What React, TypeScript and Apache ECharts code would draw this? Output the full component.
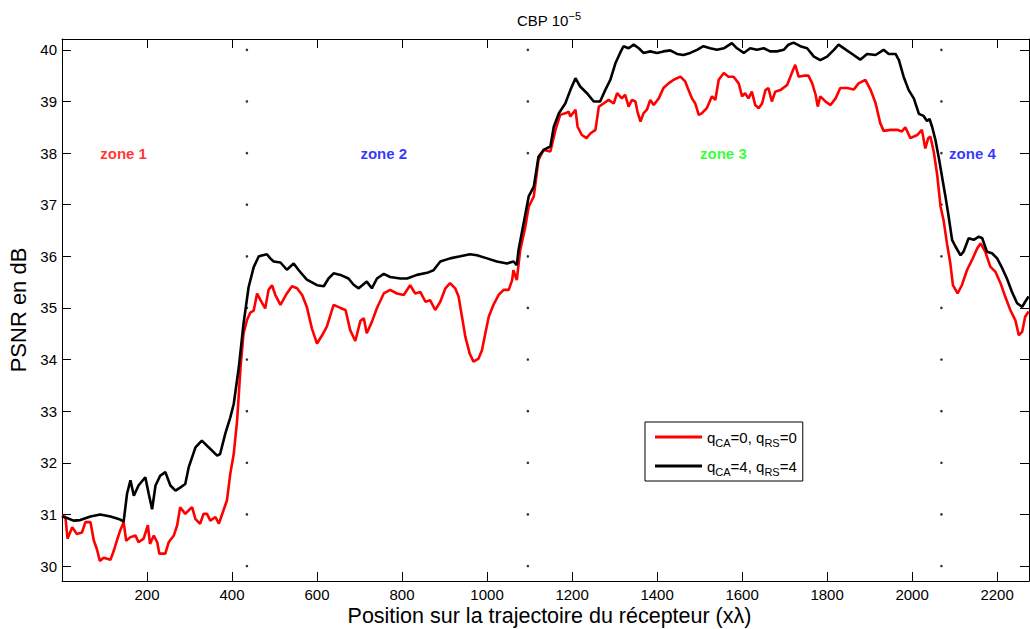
import React, { useEffect, useRef } from "react";
import * as echarts from "echarts";

// ---- data ----
const redX = [0, 8, 13, 24, 35, 47, 55, 67, 75, 82, 89, 98, 114, 122, 129, 137, 145, 151, 161, 173, 180, 192, 202, 207, 216, 224, 229, 243, 251, 263, 271, 278, 290, 298, 306, 314, 325, 333, 341, 349, 361, 369, 380, 388, 396, 404, 412, 420, 427, 435, 443, 451, 459, 467, 478, 486, 494, 502, 514, 529, 541, 553, 565, 576, 588, 600, 612, 623, 639, 655, 667, 678, 690, 702, 710, 717, 729, 741, 757, 772, 788, 804, 819, 831, 843, 855, 866, 878, 890, 902, 913, 925, 933, 941, 949, 959, 968, 980, 988, 996, 1004, 1015, 1027, 1039, 1051, 1059, 1062, 1070, 1078, 1090, 1098, 1110, 1121, 1133, 1149, 1161, 1172, 1184, 1192, 1196, 1208, 1213, 1223, 1234, 1243, 1255, 1263, 1274, 1286, 1298, 1306, 1317, 1325, 1333, 1341, 1349, 1354, 1361, 1368, 1376, 1384, 1392, 1404, 1415, 1427, 1439, 1455, 1466, 1474, 1482, 1490, 1498, 1505, 1517, 1529, 1537, 1545, 1557, 1568, 1580, 1592, 1600, 1607, 1615, 1623, 1631, 1639, 1647, 1655, 1662, 1670, 1678, 1690, 1706, 1717, 1725, 1733, 1745, 1756, 1765, 1773, 1778, 1784, 1796, 1808, 1820, 1831, 1847, 1863, 1874, 1890, 1902, 1914, 1925, 1933, 1949, 1965, 1976, 1984, 1996, 2012, 2023, 2031, 2038, 2043, 2051, 2059, 2067, 2074, 2082, 2090, 2096, 2107, 2117, 2129, 2141, 2153, 2161, 2172, 2184, 2196, 2208, 2219, 2231, 2243, 2251, 2259, 2266, 2274];
const redY = [30.98, 30.95, 30.53, 30.75, 30.62, 30.65, 30.85, 30.85, 30.49, 30.33, 30.1, 30.16, 30.12, 30.3, 30.49, 30.69, 30.85, 30.49, 30.56, 30.59, 30.46, 30.53, 30.79, 30.43, 30.59, 30.46, 30.24, 30.24, 30.46, 30.59, 30.79, 31.14, 31.01, 31.08, 31.14, 30.91, 30.82, 31.01, 31.01, 30.88, 30.95, 30.82, 31.08, 31.27, 31.79, 32.17, 32.82, 33.85, 34.5, 34.76, 34.91, 34.95, 35.28, 35.15, 34.99, 35.35, 35.44, 35.25, 35.06, 35.28, 35.42, 35.38, 35.25, 35.02, 34.6, 34.31, 34.47, 34.64, 35.06, 35.0, 34.96, 34.57, 34.36, 34.75, 34.8, 34.51, 34.73, 35.0, 35.28, 35.35, 35.28, 35.25, 35.44, 35.28, 35.31, 35.12, 35.15, 34.96, 35.12, 35.38, 35.48, 35.38, 35.22, 34.83, 34.44, 34.12, 33.96, 34.02, 34.18, 34.51, 34.83, 35.06, 35.25, 35.35, 35.35, 35.54, 35.73, 35.54, 36.12, 36.57, 36.96, 37.16, 37.87, 38.06, 38.03, 38.45, 38.74, 38.77, 38.8, 38.71, 38.84, 38.51, 38.35, 38.29, 38.38, 38.45, 38.9, 38.96, 39.03, 38.96, 39.16, 39.06, 39.13, 38.9, 39.03, 39.0, 38.8, 38.61, 38.77, 38.84, 39.03, 38.93, 39.06, 39.26, 39.35, 39.42, 39.48, 39.39, 39.22, 39.06, 38.96, 38.74, 38.77, 38.87, 39.1, 39.03, 39.42, 39.55, 39.48, 39.48, 39.35, 39.1, 39.16, 39.06, 39.19, 38.93, 38.87, 38.96, 39.22, 39.26, 39.0, 39.19, 39.22, 39.32, 39.55, 39.71, 39.48, 39.5, 39.5, 39.35, 39.13, 38.9, 39.1, 39.0, 38.93, 39.06, 39.26, 39.26, 39.23, 39.35, 39.42, 39.23, 38.97, 38.58, 38.43, 38.45, 38.45, 38.42, 38.5, 38.29, 38.35, 38.45, 38.09, 38.29, 38.32, 38.02, 37.58, 36.96, 36.7, 36.25, 35.86, 35.44, 35.28, 35.44, 35.73, 35.93, 36.15, 36.25, 36.09, 35.8, 35.7, 35.48, 35.22, 34.96, 34.76, 34.47, 34.54, 34.83, 34.93];

const blackX = [0, 12, 27, 43, 67, 90, 114, 137, 145, 153, 161, 169, 180, 196, 204, 212, 220, 231, 243, 255, 267, 278, 290, 298, 314, 329, 345, 365, 372, 384, 396, 404, 416, 427, 439, 451, 463, 482, 490, 498, 514, 529, 545, 557, 576, 600, 616, 627, 639, 655, 674, 686, 698, 717, 729, 741, 757, 772, 796, 812, 835, 859, 874, 890, 913, 937, 960, 976, 1000, 1023, 1047, 1062, 1070, 1074, 1086, 1098, 1110, 1121, 1133, 1149, 1157, 1169, 1184, 1196, 1208, 1219, 1235, 1251, 1266, 1278, 1290, 1302, 1313, 1321, 1333, 1345, 1357, 1368, 1384, 1400, 1415, 1431, 1447, 1462, 1478, 1494, 1509, 1525, 1541, 1557, 1576, 1588, 1604, 1619, 1635, 1651, 1666, 1682, 1698, 1709, 1721, 1737, 1753, 1769, 1784, 1800, 1816, 1827, 1843, 1859, 1878, 1894, 1914, 1933, 1945, 1961, 1969, 1980, 1992, 2004, 2016, 2027, 2035, 2041, 2047, 2055, 2063, 2070, 2078, 2086, 2094, 2102, 2114, 2121, 2133, 2145, 2157, 2165, 2176, 2188, 2200, 2212, 2223, 2235, 2247, 2259, 2266, 2274];
const blackY = [30.96, 30.93, 30.88, 30.89, 30.96, 31.0, 30.96, 30.9, 30.86, 31.4, 31.66, 31.36, 31.56, 31.72, 31.4, 31.1, 31.56, 31.75, 31.82, 31.56, 31.46, 31.52, 31.59, 31.91, 32.3, 32.43, 32.3, 32.14, 32.17, 32.56, 32.88, 33.14, 33.85, 34.69, 35.4, 35.79, 36.0, 36.04, 35.96, 35.9, 35.88, 35.74, 35.86, 35.73, 35.55, 35.44, 35.42, 35.57, 35.67, 35.64, 35.57, 35.45, 35.38, 35.51, 35.38, 35.57, 35.66, 35.6, 35.57, 35.57, 35.64, 35.68, 35.73, 35.9, 35.96, 36.0, 36.04, 36.02, 35.96, 35.9, 35.86, 35.9, 35.83, 36.12, 36.64, 37.16, 37.35, 37.93, 38.06, 38.13, 38.51, 38.77, 38.96, 39.22, 39.45, 39.29, 39.16, 39.0, 39.0, 39.22, 39.42, 39.74, 39.94, 40.07, 40.03, 40.1, 40.03, 39.94, 39.97, 39.94, 39.97, 39.99, 39.92, 39.9, 39.94, 40.0, 40.07, 40.03, 40.0, 40.03, 40.13, 40.03, 39.94, 40.03, 40.0, 40.03, 39.97, 39.97, 40.0, 40.1, 40.14, 40.07, 40.03, 39.87, 39.8, 39.87, 40.0, 40.1, 40.01, 39.92, 39.81, 39.92, 39.9, 40.0, 39.92, 39.92, 39.8, 39.48, 39.22, 39.06, 38.76, 38.72, 38.62, 38.66, 38.51, 38.25, 37.9, 37.56, 37.18, 36.77, 36.32, 36.19, 36.02, 36.09, 36.35, 36.32, 36.38, 36.35, 36.09, 36.06, 35.96, 35.77, 35.57, 35.31, 35.09, 35.02, 35.12, 35.22];

const seriesNames = ["q_CA=0, q_RS=0", "q_CA=4, q_RS=4"];
const zoneNames = ["zone 1", "zone 2", "zone 3", "zone 4"];
const zoneX = [145, 757, 1556, 2142];
const zoneY = 38;
const separatorX = [435, 1096, 2069];
const dotLevels = [30, 31, 32, 33, 34, 35, 36, 37, 38, 39, 40];
const xTickStep = 200;

// ---- styles ----
const FONT = "'Liberation Sans', Arial, Helvetica, sans-serif";
const zoneColors = ["#ff0000", "#0000ff", "#00ff00", "#0000ff"];
const lineColors = ["#ff0000", "#000000"];

export default function App() {
  const ref = useRef<HTMLDivElement>(null);

  useEffect(() => {
    if (!ref.current) return;
    const chart = echarts.init(ref.current, null, { renderer: "svg" });

    const axisCommon = {
      type: "value",
      axisLine: { show: true, onZero: false, lineStyle: { color: "#000", width: 1 } },
      axisTick: { show: true, inside: true, length: 9, lineStyle: { color: "#000", width: 1 } },
      splitLine: { show: false },
    };

    const isInt = (v: number) => Math.abs(v - Math.round(v)) < 1e-6;

    const xBase = { ...axisCommon, min: 0, max: 2275, interval: xTickStep };
    const yBase = { ...axisCommon, min: 29.71, max: 40.21, minInterval: 1, maxInterval: 1 };

    const dotsData: number[][] = [];
    separatorX.forEach((x) => dotLevels.forEach((y) => dotsData.push([x, y])));

    chart.setOption({
      animation: false,
      backgroundColor: "#ffffff",
      textStyle: { fontFamily: FONT },
      title: {
        text: "CBP 10{sup|−5}",
        left: 549,
        top: 10,
        padding: 0,
        textAlign: "center",
        textStyle: {
          fontFamily: FONT,
          fontSize: 15,
          fontWeight: "normal",
          color: "#000",
          lineHeight: 20,
          rich: {
            sup: { fontFamily: FONT, fontSize: 11, verticalAlign: "top", lineHeight: 11, color: "#000" },
          },
        },
      },
      grid: {
        left: 62,
        right: 1,
        top: 39,
        bottom: 48,
        containLabel: false,
        outerBoundsMode: "none",
      },
      legend: {
        orient: "vertical",
        left: 645,
        top: 422,
        data: seriesNames,
        icon: "rect",
        itemWidth: 47,
        itemHeight: 3,
        itemGap: 7,
        padding: [4, 6, 4, 10],
        borderColor: "#000",
        borderWidth: 1,
        borderRadius: 0,
        backgroundColor: "#ffffff",
        selectedMode: false,
        formatter: (name: string) => name.replace(/_([A-Z]+)/g, "{s|$1}"),
        textStyle: {
          fontFamily: FONT,
          fontSize: 15,
          lineHeight: 22,
          color: "#000",
          rich: {
            s: { fontFamily: FONT, fontSize: 11, lineHeight: 11, verticalAlign: "bottom", color: "#000" },
          },
        },
      },
      xAxis: [
        {
          ...xBase,
          position: "bottom",
          axisLabel: {
            show: true,
            margin: 6,
            fontFamily: FONT,
            fontSize: 15,
            lineHeight: 14,
            color: "#000",
            formatter: (v: number) => (v > 0 && v % xTickStep === 0 ? String(v) : ""),
          },
          name: "Position sur la trajectoire du récepteur (xλ)",
          nameLocation: "middle",
          nameGap: 24,
          nameMoveOverlap: false,
          nameTextStyle: {
            fontFamily: FONT,
            fontSize: 21.5,
            lineHeight: 22,
            color: "#000",
            padding: [0, 0, 0, 8],
          },
        },
        { ...xBase, position: "top", axisLabel: { show: false } },
      ],
      yAxis: [
        {
          ...yBase,
          position: "left",
          axisLabel: {
            show: true,
            margin: 5,
            fontFamily: FONT,
            fontSize: 15,
            color: "#000",
            formatter: (v: number) => (isInt(v) ? String(Math.round(v)) : ""),
          },
          name: "PSNR en dB",
          nameLocation: "middle",
          nameGap: 33,
          nameTextStyle: { fontFamily: FONT, fontSize: 22, color: "#000" },
        },
        { ...yBase, position: "right", axisLabel: { show: false } },
      ],
      series: [
        {
          name: seriesNames[0],
          type: "line",
          xAxisIndex: 0,
          yAxisIndex: 0,
          data: redX.map((x, i) => [x, redY[i]]),
          symbol: "none",
          color: lineColors[0],
          lineStyle: { color: lineColors[0], width: 2.6 },
          z: 3,
        },
        {
          name: seriesNames[1],
          type: "line",
          xAxisIndex: 0,
          yAxisIndex: 0,
          data: blackX.map((x, i) => [x, blackY[i]]),
          symbol: "none",
          color: lineColors[1],
          lineStyle: { color: lineColors[1], width: 2.6 },
          z: 4,
        },
        {
          name: "separators",
          type: "scatter",
          data: dotsData,
          symbol: "circle",
          symbolSize: 2.6,
          itemStyle: { color: "#000" },
          silent: true,
          z: 2,
        },
        {
          name: "zones",
          type: "scatter",
          symbolSize: 0,
          silent: true,
          data: zoneNames.map((n, i) => ({
            name: n,
            value: [zoneX[i], zoneY],
            label: { color: zoneColors[i] },
          })),
          label: {
            show: true,
            position: "inside",
            formatter: (p: any) => p.name,
            fontFamily: FONT,
            fontSize: 15,
            fontWeight: "bold",
          },
          z: 5,
        },
      ],
    });

    return () => chart.dispose();
  }, []);

  return (
    <div
      ref={ref}
      style={{ position: "absolute", left: 0, top: 0, width: 1030, height: 629, background: "#fff" }}
    />
  );
}
